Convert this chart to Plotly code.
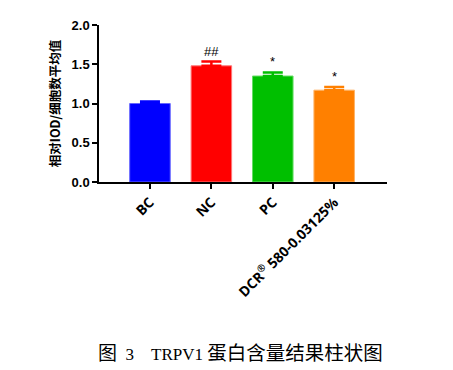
import plotly.graph_objects as go

categories = ["BC", "NC", "PC", "DCR<sup>®</sup> 580-0.03125%"]
means = [1.00, 1.48, 1.35, 1.17]
errors = [0.025, 0.055, 0.045, 0.04]
marks = ["", "##", "*", "*"]
colors = ["#0000FF", "#FF0000", "#00BF00", "#FF8000"]
edge_colors = ["#6666FF", "#FF7777", "#66DD66", "#FFB366"]
y_ticks = [0.0, 0.5, 1.0, 1.5, 2.0]
y_title = "相对IOD/细胞数平均值"
caption_parts = ["图", "  3    TRPV1 ", "蛋白含量结果柱状图"]

fig = go.Figure()
for i, cat in enumerate(categories):
    fig.add_trace(go.Bar(
        x=[i], y=[means[i]], width=0.66,
        marker=dict(color=colors[i], line=dict(color=edge_colors[i], width=1)),
        error_y=dict(type="data", array=[errors[i]], arrayminus=[0], symmetric=False,
                     color=colors[i], thickness=2.5, width=10),
        showlegend=False,
    ))
    if marks[i]:
        fig.add_annotation(x=i, y=means[i] + errors[i], yshift=1, text=marks[i],
                           showarrow=False, yanchor="bottom",
                           font=dict(family="Liberation Sans, Arial", size=13, color="#000"))

cap_text = ('<span style="font-size:19px">' + caption_parts[0] + '</span>' + caption_parts[1]
            + '<span style="font-size:19.5px">' + caption_parts[2] + '</span>')
fig.add_annotation(xref="paper", yref="paper", x=0.49, y=-1.095, xanchor="center", yanchor="middle",
                   text=cap_text, showarrow=False,
                   font=dict(family="Liberation Serif, Noto Sans CJK SC", size=17, color="#000"))

fig.update_layout(
    width=453, height=370,
    margin=dict(l=99, r=66, t=25, b=188),
    paper_bgcolor="white", plot_bgcolor="white",
    barmode="overlay",
    font=dict(family="Liberation Sans, Arial, Noto Sans CJK SC", color="#000"),
)
fig.update_xaxes(
    range=[-0.83, 3.86], tickmode="array", tickvals=list(range(len(categories))),
    ticktext=["<b>" + c + "</b>" for c in categories],
    tickangle=-45, ticks="outside", ticklen=5, tickwidth=1.5, tickcolor="#000",
    showline=True, linecolor="#000", linewidth=1.5, showgrid=False, zeroline=False,
    tickfont=dict(size=14, family="Open Sans, Liberation Sans, Arial"),
)
fig.update_yaxes(
    range=[0, 2], tickmode="array", tickvals=y_ticks,
    ticktext=["<b>%.1f</b>" % v for v in y_ticks],
    ticks="outside", ticklen=5, tickwidth=1.5, tickcolor="#000",
    showline=True, linecolor="#000", linewidth=1.5, showgrid=False, zeroline=False,
    tickfont=dict(size=13, family="Liberation Sans, Arial"),
    title=dict(text="<b>" + y_title + "</b>", standoff=8,
               font=dict(size=12.5, family="Noto Sans CJK SC")),
)

fig.write_html("out.html", config={"displayModeBar": False},
               post_script="document.body.style.margin='0px';")
